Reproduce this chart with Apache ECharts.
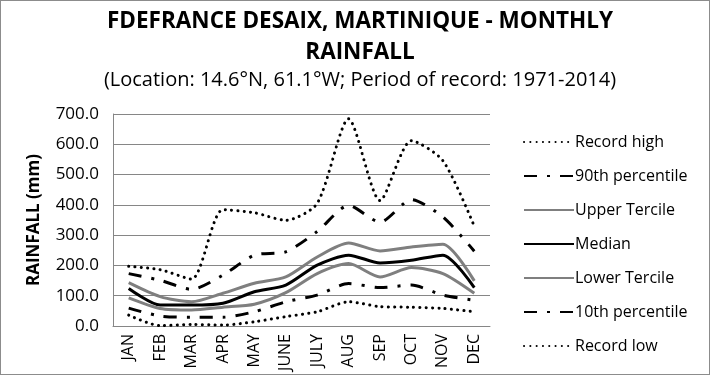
<!DOCTYPE html>
<html>
<head>
<meta charset="utf-8">
<script src="https://cdn.jsdelivr.net/npm/echarts@6/dist/echarts.min.js"></script>
<style>
  html, body { margin: 0; padding: 0; background: #fff; }
  #chart { width: 708px; height: 373px; border: 1px solid #8c8c8c; }
</style>
</head>
<body>
<div id="chart"></div>
<script>
const months = ['JAN', 'FEB', 'MAR', 'APR', 'MAY', 'JUNE', 'JULY', 'AUG', 'SEP', 'OCT', 'NOV', 'DEC'];
const recordHigh = [197, 186, 155, 384, 374, 349, 405, 684, 414, 612, 546, 329];
const p90 = [173, 151, 121, 168, 234, 245, 312, 398, 343, 417, 360, 247];
const upperTercile = [143, 97, 80, 108, 141, 162, 228, 274, 248, 261, 270, 149];
const median = [124, 69, 69, 75, 113, 135, 201, 234, 208, 217, 234, 127];
const lowerTercile = [93, 58, 53, 62, 72, 110, 173, 206, 162, 193, 173, 108];
const p10 = [59, 33, 29, 29, 47, 80, 102, 140, 127, 135, 102, 85];
const recordLow = [36, 1, 5, 3, 14, 31, 47, 80, 64, 62, 58, 47];

const font = '"Open Sans", sans-serif';
const dotted = { color: '#000', width: 3, type: [0.1, 6.2], cap: 'round' };
const dashDot = { color: '#000', width: 3, type: [13, 10, 3, 10] };
const gray = { color: '#7f7f7f', width: 3, type: 'solid' };
const black = { color: '#000', width: 3, type: 'solid' };

function line(name, data, style) {
  return {
    name: name, type: 'line', data: data, symbol: 'none', smooth: 0.25,
    lineStyle: style, itemStyle: { color: style.color },
    emphasis: { disabled: true }
  };
}

const chart = echarts.init(document.getElementById('chart'));
chart.setOption({
  animation: false,
  title: [{
    text: 'FDEFRANCE DESAIX, MARTINIQUE - MONTHLY\nRAINFALL',
    left: 354, top: 0, textAlign: 'center',
    textStyle: { fontFamily: font, fontSize: 22.5, fontWeight: 'bold', color: '#000', lineHeight: 31 }
  }, {
    text: '(Location: 14.6°N, 61.1°W; Period of record: 1971-2014)',
    left: 354, top: 64, textAlign: 'center',
    textStyle: { fontFamily: font, fontSize: 20, fontWeight: 'normal', color: '#000' }
  }],
  grid: { left: 112, right: 219, top: 113, bottom: 48 },
  legend: {
    orient: 'vertical', left: 517, top: 128,
    itemWidth: 50, itemHeight: 14, itemGap: 18,
    itemStyle: { opacity: 0 },
    textStyle: { fontFamily: font, fontSize: 16, color: '#000', padding: [0, 0, 0, -4] },
    data: ['Record high', '90th percentile', 'Upper Tercile', 'Median', 'Lower Tercile', '10th percentile', 'Record low']
  },
  xAxis: {
    type: 'category', data: months, boundaryGap: true,
    axisLine: { lineStyle: { color: '#868686', width: 1 } },
    axisTick: { show: false },
    axisLabel: { rotate: 90, fontFamily: font, fontSize: 16, color: '#000', margin: 8 }
  },
  yAxis: {
    type: 'value', min: 0, max: 700, interval: 100,
    name: 'RAINFALL (mm)', nameLocation: 'middle', nameGap: 70, nameRotate: 90,
    nameTextStyle: { fontFamily: font, fontSize: 17, fontWeight: 'bold', color: '#000' },
    axisLine: { show: true, lineStyle: { color: '#868686' } },
    axisLabel: { fontFamily: font, fontSize: 17, color: '#000', margin: 14, formatter: v => v.toFixed(1) },
    splitLine: { lineStyle: { color: '#868686', width: 1 } }
  },
  series: [
    line('Record high', recordHigh, dotted),
    line('90th percentile', p90, dashDot),
    line('Upper Tercile', upperTercile, gray),
    line('Median', median, black),
    line('Lower Tercile', lowerTercile, gray),
    line('10th percentile', p10, dashDot),
    line('Record low', recordLow, dotted)
  ]
});
</script>
</body>
</html>
